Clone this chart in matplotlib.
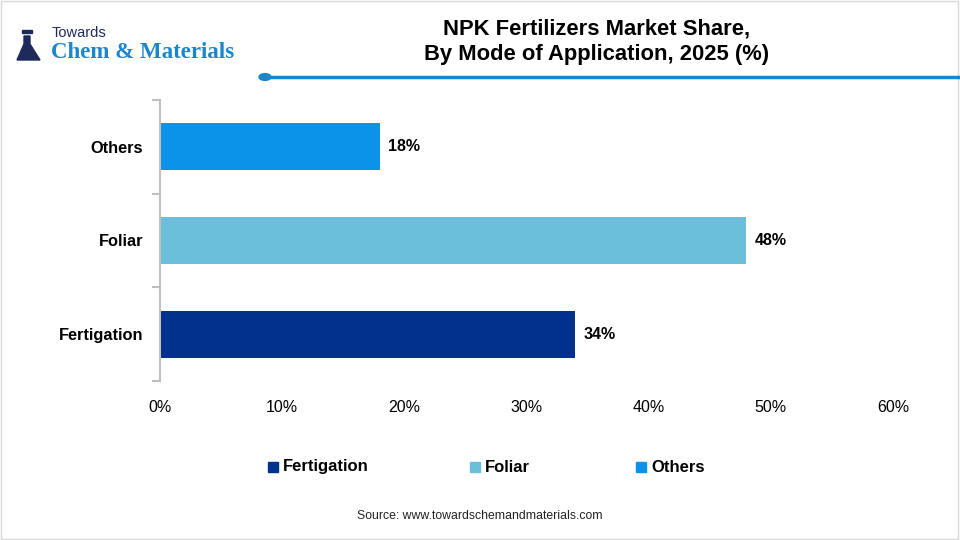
import matplotlib.pyplot as plt
from matplotlib.patches import Rectangle, Circle, Polygon
from matplotlib.lines import Line2D

categories = ['Fertigation', 'Foliar', 'Others']
shares = [34, 48, 18]
colors = ['#00318c', '#6cbfdb', '#0b93ea']
xticks = [0, 10, 20, 30, 40, 50, 60]

plt.rcParams['font.family'] = ['Liberation Sans', 'DejaVu Sans']

fig = plt.figure(figsize=(9.6, 5.4), dpi=100)
ax = fig.add_axes([160/960, 1-381/540, (893-160)/960, (381-100)/540])

ypos = range(len(categories))
ax.barh(ypos, shares, height=0.5, color=colors)
for y, v in zip(ypos, shares):
    ax.text(v + 0.7, y, f'{v}%', va='center', ha='left', fontsize=11.5, fontweight='bold')

ax.set_xlim(0, 60)
ax.set_ylim(-0.5, 2.5)
ax.set_xticks(xticks)
ax.set_xticklabels([f'{t}%' for t in xticks], fontsize=11.5)
ax.tick_params(axis='x', length=0, pad=14)
ax.set_yticks(list(ypos))
ax.set_yticklabels(categories, fontsize=11.8, fontweight='bold')
ax.tick_params(axis='y', which='major', length=0, pad=12)
ax.set_yticks([-0.5, 0.5, 1.5, 2.5], minor=True)
ax.tick_params(axis='y', which='minor', length=6, color='#bfbfbf', width=1.5)
for s in ['top', 'right', 'bottom']:
    ax.spines[s].set_visible(False)
ax.spines['left'].set_color('#bfbfbf')
ax.spines['left'].set_linewidth(1.5)

# title
fig.text(597/960, 1-42/540, 'NPK Fertilizers Market Share,\nBy Mode of Application, 2025 (%)',
         ha='center', va='center', fontsize=15.8, fontweight='bold', linespacing=1.3)

# header line with dot
fig.add_artist(Line2D([265/960, 1], [1-77/540, 1-77/540], color='#1a87c8', lw=2.5))
fig.add_artist(Circle((265/960, 1-77/540), 6/960, transform=fig.transFigure,
                      color='#1a87c8', zorder=5))

# logo
fig.text(52/960, 1-33/540, 'Towards', fontsize=10.5, color='#1f2a5c', va='center', ha='left')
fig.text(51/960, 1-52/540, 'Chem & Materials', fontsize=16.5, color='#1a86cf',
         fontweight='bold', family='Liberation Serif', va='center', ha='left')
flask = Polygon([(24/960, 1-36/540), (30/960, 1-36/540), (30/960, 1-44/540),
                 (40/960, 1-60/540), (17/960, 1-60/540), (24/960, 1-44/540)],
                closed=True, transform=fig.transFigure, color='#1f2a5c')
fig.add_artist(flask)
fig.add_artist(Rectangle((22/960, 1-33/540), 10/960, 3/540, transform=fig.transFigure,
                         color='#1f2a5c'))

# legend
leg_x = [268, 470, 636]
for lx, c, name in zip(leg_x, colors, categories):
    fig.add_artist(Rectangle((lx/960, 1-472/540), 10/960, 10/540, transform=fig.transFigure,
                             color=c))
    fig.text((lx + 15)/960, 1-467/540, name, fontsize=12, fontweight='bold',
             va='center', ha='left')

fig.text(480/960, 1-516/540, 'Source: www.towardschemandmaterials.com',
         ha='center', va='center', fontsize=8.8, color='#222222')

fig.add_artist(Rectangle((0.001, 0.002), 0.997, 0.996, transform=fig.transFigure,
                         fill=False, edgecolor='#d9d9d9', lw=1))

fig.savefig('out.png', dpi=100)
